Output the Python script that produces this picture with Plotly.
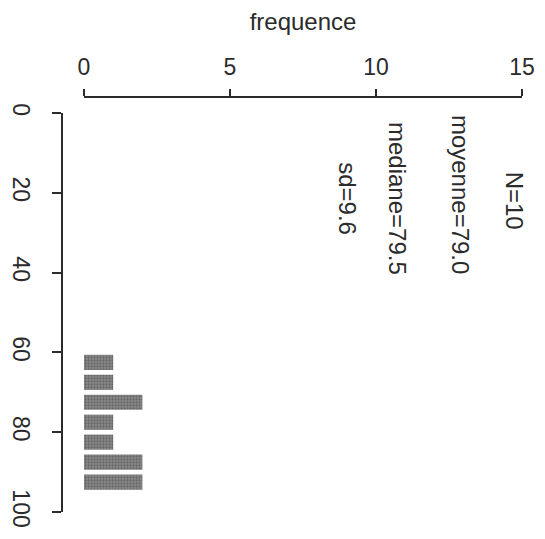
import plotly.graph_objects as go

# histogramme horizontal des notes
classes = [62.5, 67.5, 72.5, 77.5, 82.5, 87.5, 92.5]
effectifs = [1, 1, 2, 1, 1, 2, 2]

freq_ticks = [0, 5, 10, 15]
note_ticks = [0, 20, 40, 60, 80, 100]

stats_labels = ["N=10", "moyenne=79.0", "mediane=79.5", "sd=9.6"]

W, H = 545, 539
PAD = 8  # marge par defaut du <body> de la page
ink = "#2b2b2b"
font_family = "Liberation Sans, Arial, sans-serif"

fig = go.Figure()
fig.add_trace(
    go.Bar(
        y=classes,
        x=effectifs,
        orientation="h",
        width=3.8,
        marker=dict(
            color="#8a8a8a",
            line=dict(width=0),
            pattern=dict(shape=".", fgcolor="#444444", size=3, solidity=0.45),
        ),
        showlegend=False,
    )
)

# texte pivote a 90 degres, comme la page scannee
text_pos = [(14.73, 22.0), (12.88, 20.3), (10.72, 21.3), (9.04, 21.6)]
for label, (xp, yp) in zip(stats_labels, text_pos):
    fig.add_annotation(
        x=xp,
        y=yp,
        text=label,
        textangle=90,
        showarrow=False,
        font=dict(size=24, color=ink, family=font_family),
    )

fig.update_layout(
    width=W,
    height=H,
    margin=dict(l=0, r=0, t=0, b=0, autoexpand=False),
    paper_bgcolor="white",
    plot_bgcolor="white",
    font=dict(family=font_family, color=ink),
    xaxis=dict(
        domain=[(84 - PAD) / W, (522 - PAD) / W],
        range=[0, 15],
        side="top",
        anchor="free",
        position=1 - (97 - PAD) / H,
        automargin=False,
        tickvals=freq_ticks,
        ticks="outside",
        ticklen=7,
        tickwidth=1.5,
        tickcolor=ink,
        showline=True,
        linecolor=ink,
        linewidth=1.5,
        showgrid=False,
        zeroline=False,
        tickfont=dict(size=23),
        ticklabelstandoff=5,
        title=dict(text="frequence", font=dict(size=24), standoff=21),
    ),
    yaxis=dict(
        domain=[1 - (512 - PAD) / H, 1 - (113 - PAD) / H],
        range=[100, 0],
        anchor="free",
        position=(62 - PAD) / W,
        automargin=False,
        tickvals=note_ticks,
        tickangle=90,
        ticks="outside",
        ticklen=9,
        tickwidth=1.5,
        tickcolor=ink,
        showline=True,
        linecolor=ink,
        linewidth=1.5,
        showgrid=False,
        zeroline=False,
        tickfont=dict(size=23),
        ticklabelstandoff=12,
    ),
)

fig.write_html("out.html")
